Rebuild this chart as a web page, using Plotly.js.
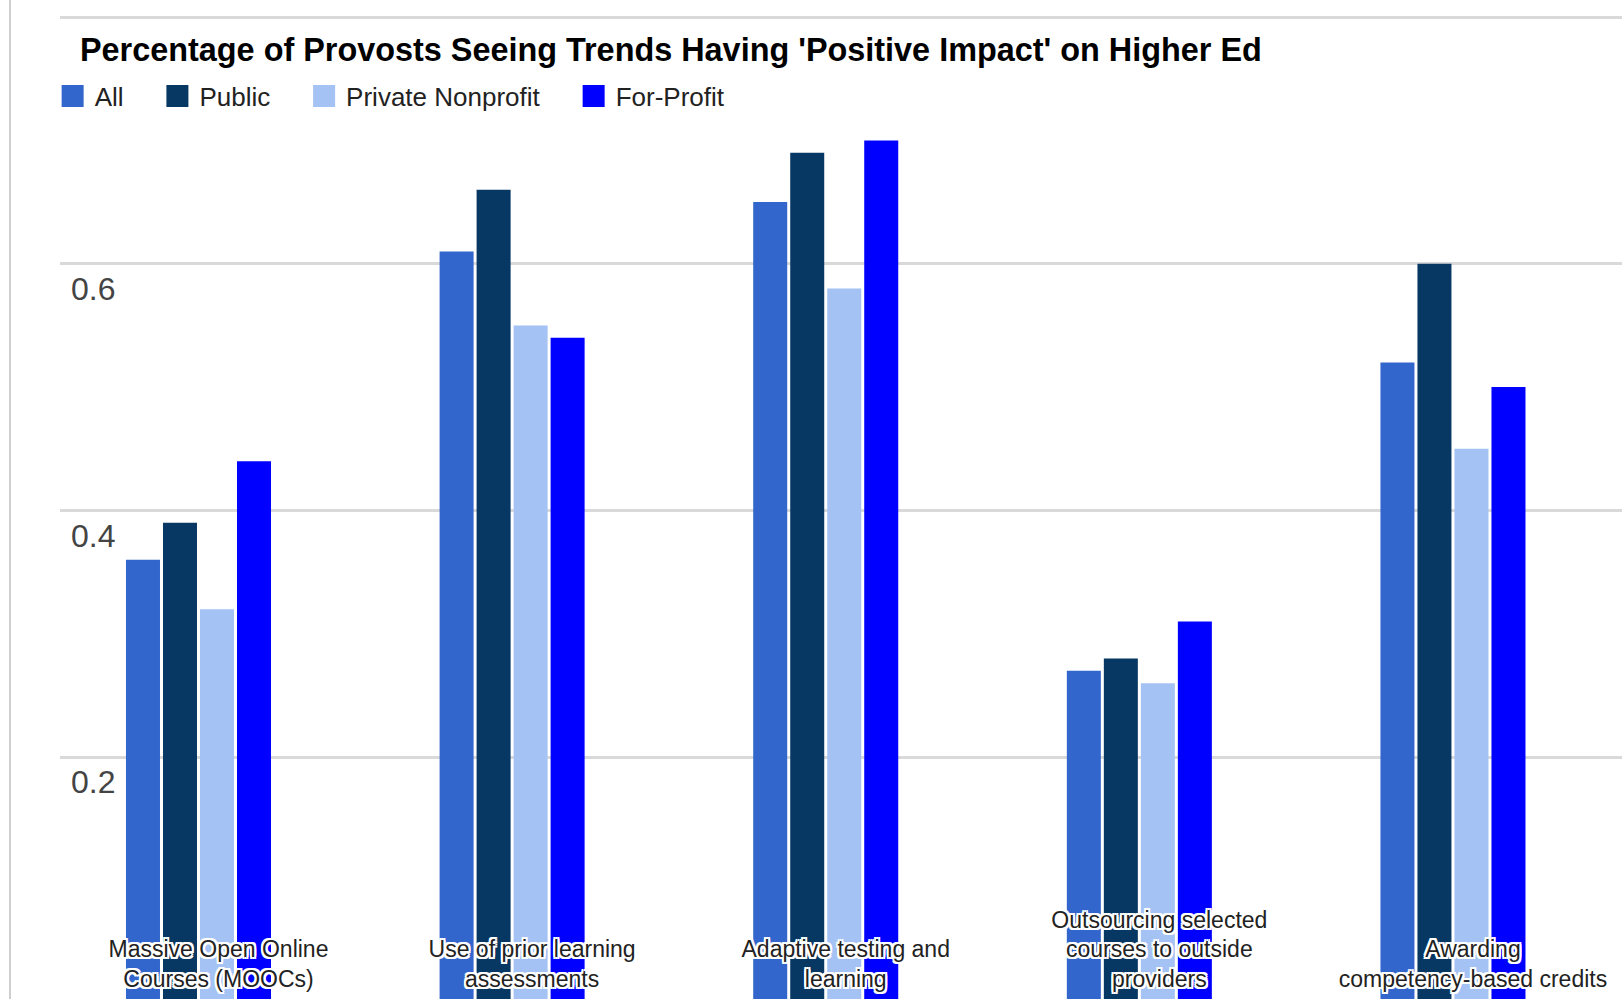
<!DOCTYPE html>
<html>
<head>
<meta charset="utf-8">
<script src="https://cdn.plot.ly/plotly-3.0.1.min.js"></script>
<style>
  html, body { margin: 0; padding: 0; background: #fff; }
  #chart { width: 1622px; height: 999px; }
</style>
</head>
<body>
<div id="chart"></div>
<script>
// ---- data ----
const categories = [
  "Massive Open Online<br>Courses (MOOCs)",
  "Use of prior learning<br>assessments",
  "Adaptive testing and<br>learning",
  "Outsourcing selected<br>courses to outside<br>providers",
  "Awarding<br>competency-based credits"
];
const seriesNames = ["All", "Public", "Private Nonprofit", "For-Profit"];
const allValues        = [0.36, 0.61, 0.65, 0.27, 0.52];
const publicValues     = [0.39, 0.66, 0.69, 0.28, 0.60];
const privateNPValues  = [0.32, 0.55, 0.58, 0.26, 0.45];
const forProfitValues  = [0.44, 0.54, 0.70, 0.31, 0.50];
const yTickVals  = [0.2, 0.4, 0.6, 0.8];
const yTickText  = ["0.2", "0.4", "0.6", ""];
const chartTitle = "Percentage of Provosts Seeing Trends Having 'Positive Impact' on Higher Ed";

// ---- style ----
const colors = ["#3366cc", "#073763", "#a4c2f4", "#0000ff"];
const seriesValues = [allValues, publicValues, privateNPValues, forProfitValues];
const pad = "\u00a0\u00a0\u00a0\u2009";

const traces = seriesValues.map((vals, i) => ({
  type: "bar",
  name: seriesNames[i] + pad,
  x: categories,
  y: vals,
  marker: { color: colors[i], line: { width: 0 } },
  hoverinfo: "none"
}));

const haloShadow = "2px 0 0 #fff, -2px 0 0 #fff, 0 2px 0 #fff, 0 -2px 0 #fff, 2px 2px 0 #fff, -2px -2px 0 #fff, 2px -2px 0 #fff, -2px 2px 0 #fff";

const layout = {
  width: 1622,
  height: 999,
  margin: { l: 60, r: 0, t: 0, b: 0, pad: 0 },
  paper_bgcolor: "#ffffff",
  plot_bgcolor: "#ffffff",
  font: { family: "Liberation Sans, Arial, sans-serif", color: "#222" },
  title: {
    text: chartTitle,
    font: { family: "Liberation Sans, Arial, sans-serif", size: 32.4, color: "#000", weight: "bold" },
    xref: "container", x: 80 / 1622, xanchor: "left",
    yref: "container", y: 1 - 50 / 999, yanchor: "middle",
    pad: { t: 0, b: 0, l: 0, r: 0 }
  },
  barmode: "group",
  bargap: 0.528,
  bargroupgap: 0.081,
  showlegend: true,
  legend: {
    orientation: "h",
    x: -0.006, xanchor: "left",
    y: 1 - 96 / 999, yanchor: "middle",
    itemwidth: 34,
    font: { size: 26, color: "#222" },
    bgcolor: "rgba(0,0,0,0)",
    borderwidth: 0,
    traceorder: "normal"
  },
  xaxis: {
    type: "category",
    range: [-0.4416, 4.539],
    showgrid: false,
    zeroline: false,
    showline: false,
    ticks: "",
    ticklabelposition: "inside",
    ticklabelstandoff: 4,
    ticklabelshift: 20,
    tickfont: { size: 23, color: "#222", shadow: haloShadow },
    fixedrange: true
  },
  yaxis: {
    range: [0.004, 0.8138],
    tickvals: yTickVals,
    ticktext: yTickText,
    showgrid: true,
    gridcolor: "#d9d9d9",
    gridwidth: 3,
    zeroline: false,
    showline: false,
    ticks: "",
    ticklabelposition: "inside",
    ticklabelshift: 25,
    ticklabelstandoff: 8,
    tickfont: { size: 32, color: "#444" },
    fixedrange: true
  },
  shapes: [
    {
      type: "line", xref: "paper", yref: "paper",
      x0: -50 / 1562, x1: -50 / 1562, y0: -0.01, y1: 1.01,
      line: { color: "#cfcfcf", width: 2 }
    }
  ]
};

Plotly.newPlot("chart", traces, layout, { staticPlot: true, displayModeBar: false }).then(() => {
  // enlarge legend swatches to match the reference's square keys
  document.querySelectorAll("#chart .legend .legendpoints path").forEach(p => {
    p.setAttribute("d", "M11,11H-11V-11H11Z");
  });
});
</script>
</body>
</html>
